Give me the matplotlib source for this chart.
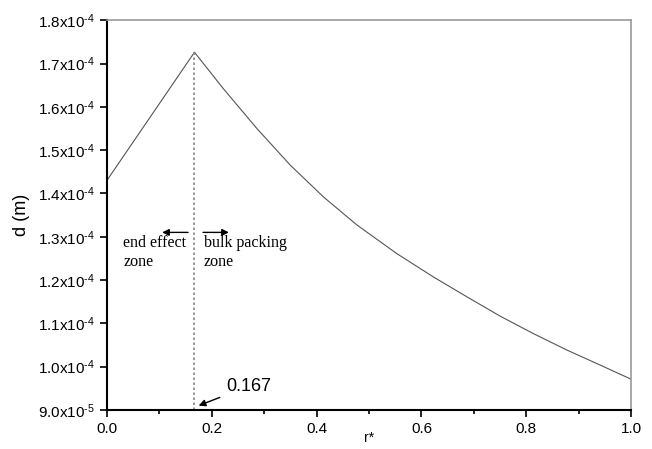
import matplotlib.pyplot as plt
from matplotlib.ticker import FuncFormatter, MultipleLocator

plt.rcParams['font.family'] = ['Liberation Sans', 'DejaVu Sans']
plt.rcParams['mathtext.fontset'] = 'custom'
plt.rcParams['mathtext.rm'] = 'Liberation Sans'
plt.rcParams['mathtext.it'] = 'Liberation Sans:italic'
plt.rcParams['mathtext.bf'] = 'Liberation Sans:bold'

# dimensionless radius and particle diameter
r_star = [0.0, 0.167, 0.222, 0.286, 0.350, 0.413, 0.477, 0.553, 0.623, 0.687,
          0.751, 0.814, 0.878, 0.942, 1.0]
d_m = [1.430e-4, 1.726e-4, 1.642e-4, 1.550e-4, 1.465e-4, 1.392e-4, 1.327e-4,
       1.261e-4, 1.207e-4, 1.161e-4, 1.116e-4, 1.076e-4, 1.038e-4, 1.003e-4,
       0.971e-4]
r_break = 0.167
d_peak = 1.726e-4

y_ticks = [9.0e-5, 1.0e-4, 1.1e-4, 1.2e-4, 1.3e-4, 1.4e-4, 1.5e-4, 1.6e-4, 1.7e-4, 1.8e-4]


def sci_label(v, pos):
    exp = -4 if v >= 9.99e-5 else -5
    mant = v / 10.0 ** exp
    # plain hyphen in the exponent rather than a math minus
    return '$%.1f\\mathrm{x}10^{\u2010%d}$' % (mant, -exp)


fig = plt.figure(figsize=(6.52, 4.49), dpi=100)
ax = fig.add_axes([0.164, 0.087, 0.804, 0.868])

ax.plot(r_star, d_m, color='#555555', lw=0.8)
ax.plot([r_break, r_break], [9.0e-5, d_peak], color='#888888', lw=1.2, ls=(0, (1.5, 1.5)))

ax.set_xlim(0.0, 1.0)
ax.set_ylim(9.0e-5, 1.8e-4)
ax.set_yticks(y_ticks)
ax.yaxis.set_major_formatter(FuncFormatter(sci_label))
ax.xaxis.set_major_locator(MultipleLocator(0.2))
ax.xaxis.set_minor_locator(MultipleLocator(0.1))
ax.xaxis.set_major_formatter(FuncFormatter(lambda v, p: '%.1f' % v))

for side in ['left', 'bottom']:
    ax.spines[side].set_linewidth(1.5)
    ax.spines[side].set_color('black')
for side in ['top', 'right']:
    ax.spines[side].set_linewidth(1.2)
    ax.spines[side].set_color('#999999')

ax.tick_params(which='major', direction='out', length=5, width=1.2, labelsize=11)
ax.tick_params(which='minor', direction='out', length=3, width=1.2)

ax.set_xlabel('r*', fontsize=10, va='center')
ax.xaxis.set_label_coords(0.5, -0.072)
ax.set_ylabel('d (m)', fontsize=13, labelpad=6)

# zone labels either side of the break
ax.text(0.031, 1.305e-4, 'end effect\nzone', family='Liberation Serif', fontsize=11.5,
        va='top', ha='left', linespacing=1.3)
ax.text(0.185, 1.305e-4, 'bulk packing\nzone', family='Liberation Serif', fontsize=11.5,
        va='top', ha='left', linespacing=1.3)
ax.annotate('', xy=(0.10, 1.31e-4), xytext=(0.16, 1.31e-4),
            arrowprops=dict(arrowstyle='-|>', color='black', lw=1, mutation_scale=10))
ax.annotate('', xy=(0.238, 1.31e-4), xytext=(0.178, 1.31e-4),
            arrowprops=dict(arrowstyle='-|>', color='black', lw=1, mutation_scale=10))

ax.annotate('0.167', xy=(0.175, 9.1e-5), xytext=(0.228, 9.55e-5), fontsize=13,
            va='center', ha='left',
            arrowprops=dict(arrowstyle='-|>', color='black', lw=1, mutation_scale=10,
                            shrinkA=3, shrinkB=0))

fig.savefig('out.png', dpi=100)
